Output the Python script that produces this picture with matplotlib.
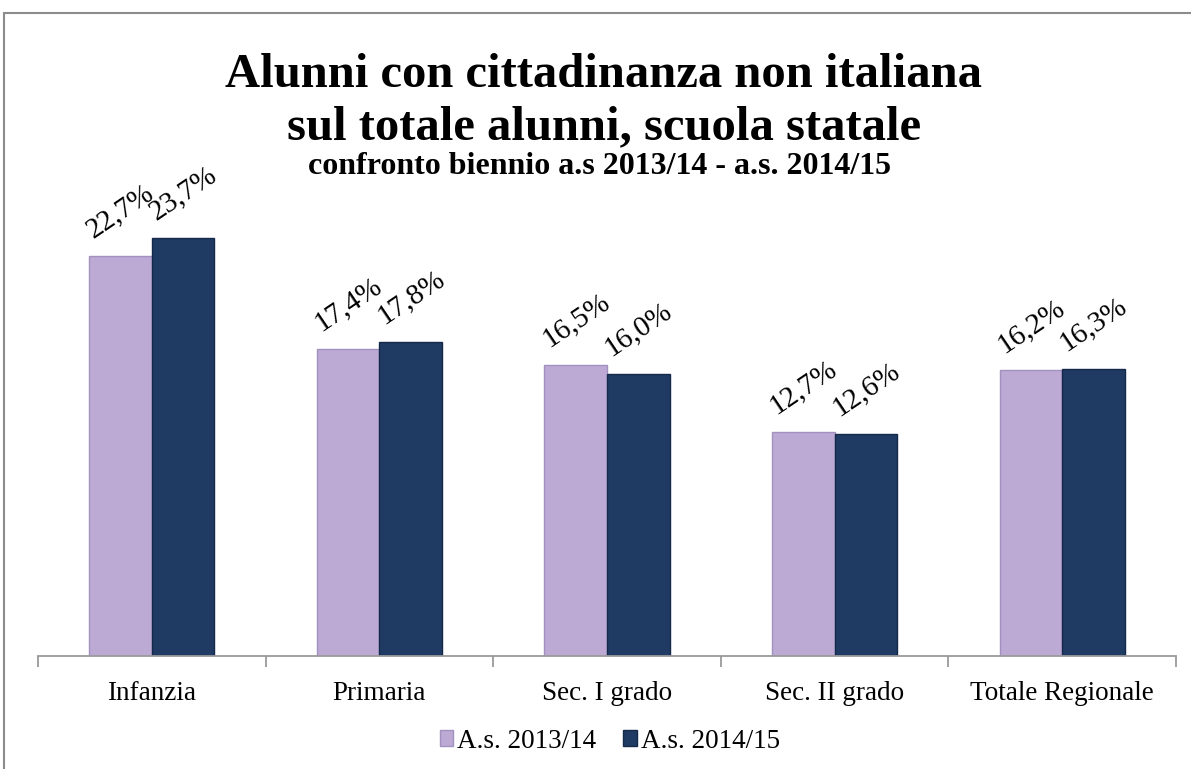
import numpy as np
import matplotlib.pyplot as plt
from matplotlib.patches import Rectangle

categories = ["Infanzia", "Primaria", "Sec. I grado", "Sec. II grado", "Totale Regionale"]
serie_2013 = [22.7, 17.4, 16.5, 12.7, 16.2]
serie_2014 = [23.7, 17.8, 16.0, 12.6, 16.3]
labels = ["A.s. 2013/14", "A.s. 2014/15"]

plt.rcParams['font.family'] = ['Liberation Serif', 'DejaVu Serif']

fig = plt.figure(figsize=(11.91, 7.69), dpi=100)
# cornice grigia (lato destro e basso fuori dall'immagine)
fig.patches.append(Rectangle((4/1191, -0.1), 1.2, 1.1 - 13/769, transform=fig.transFigure,
                             fill=False, edgecolor='#8c8c8c', linewidth=1.5))

ax = fig.add_axes([38/1191, 113/769, 1138/1191, 476/769])
x = np.arange(len(categories))
w = 0.275
c1, c2 = '#bcaad5', '#1f3a63'
b1 = ax.bar(x - w/2, serie_2013, w, color=c1, edgecolor='#a291be', linewidth=1, label=labels[0])
b2 = ax.bar(x + w/2, serie_2014, w, color=c2, edgecolor='#15294a', linewidth=1, label=labels[1])

for bars, vals in ((b1, serie_2013), (b2, serie_2014)):
    for b, v in zip(bars, vals):
        ax.annotate(f"{v:.1f}%".replace('.', ','), (b.get_x() + b.get_width()/2, v),
                    xytext=(0, 32), textcoords='offset points',
                    rotation=34, ha='center', va='center', fontsize=21,
                    rotation_mode='anchor')

ax.set_xlim(-0.5, len(categories) - 0.5)
ax.set_ylim(0, 27)
for s in ('top', 'right', 'left'):
    ax.spines[s].set_visible(False)
ax.spines['bottom'].set_color('#9a9a9a')
ax.spines['bottom'].set_linewidth(1.3)
ax.set_yticks([])
ax.set_xticks(x)
ax.set_xticklabels(categories, fontsize=19.5)
ax.tick_params(axis='x', which='major', length=0, pad=18)
ax.set_xticks(np.arange(-0.5, len(categories)), minor=True)
ax.tick_params(axis='x', which='minor', length=8, color='#9a9a9a', width=1.3)

fig.text(0.507, 1 - 75/769, "Alunni con cittadinanza non italiana",
         ha='center', va='center', fontsize=35, fontweight='bold')
fig.text(0.507, 1 - 127/769, "sul totale alunni, scuola statale",
         ha='center', va='center', fontsize=35, fontweight='bold')
fig.text(0.503, 1 - 167/769, "confronto biennio a.s 2013/14 - a.s. 2014/15",
         ha='center', va='center', fontsize=23, fontweight='bold')

fig.legend(loc='center', bbox_to_anchor=(0.512, 1 - 741/769), ncol=2, frameon=False,
           fontsize=19.5, handlelength=0.5, handleheight=0.5, handletextpad=0.15,
           columnspacing=1.0)

fig.savefig('out.png', dpi=100)
